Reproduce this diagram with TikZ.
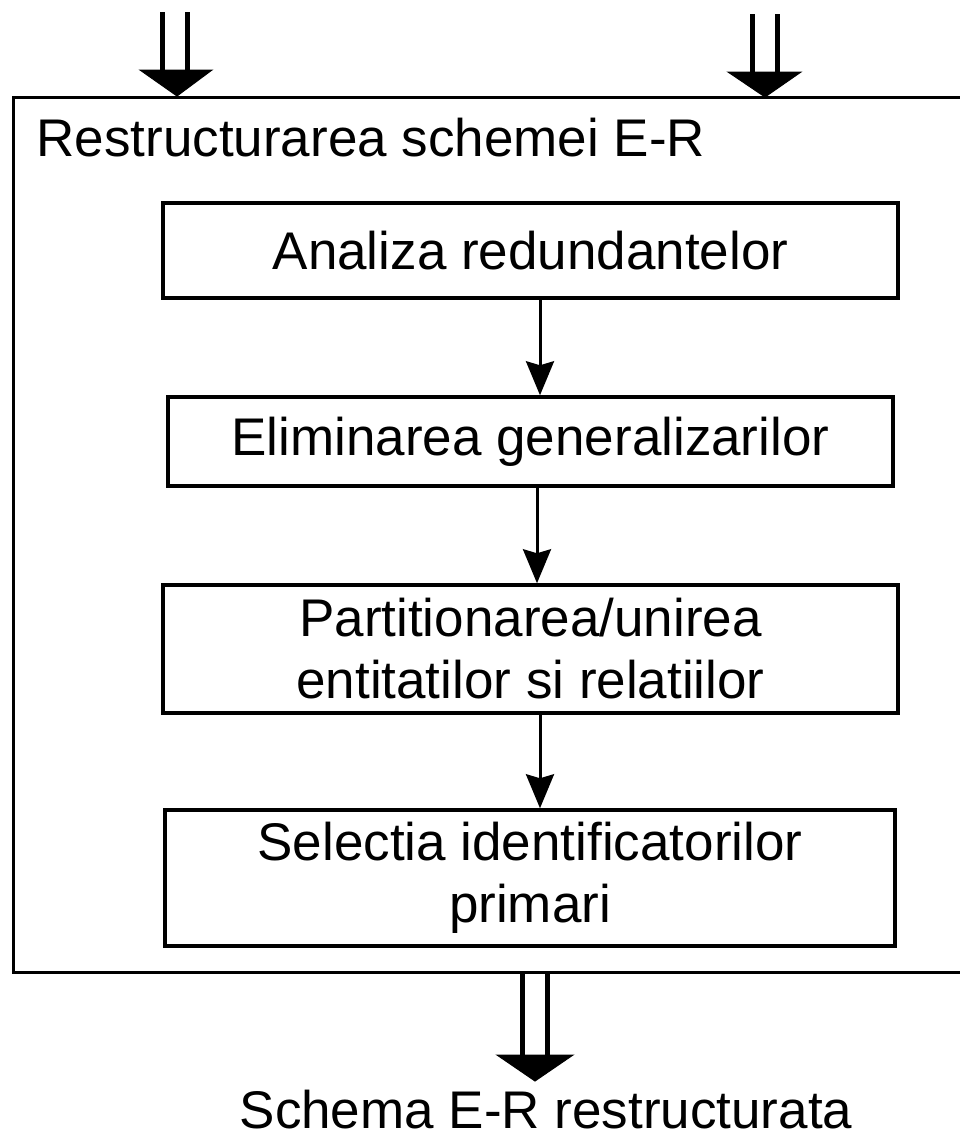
\documentclass[tikz,border=0pt]{standalone}
\usepackage{fontspec}
\setmainfont{Liberation Sans}
\usetikzlibrary{arrows.meta}
\begin{document}
\begin{tikzpicture}[x=1pt,y=-1pt,
  every node/.style={font=\fontsize{53}{62}\selectfont},
  stepbox/.style={draw,line width=3.5pt,minimum width=735pt,inner sep=0pt,align=center},
  flow/.style={line width=3pt,-{Stealth[length=34pt,width=28pt,inset=4pt]}},
  shaft/.style={line width=4.5pt},
  bighead/.style={fill=black,draw=black,line width=1pt,line join=miter}]
\useasboundingbox (0,0) rectangle (960,1138);
% outer frame of the restructuring stage
\draw[line width=3pt] (13,97) rectangle (975,972);
\node[anchor=west] (title) at (33,138) {Restructurarea schemei E-R};
% processing steps
\node[stepbox,minimum height=95pt] (s1) at (530.5,250.5) {Analiza redundantelor};
\node[stepbox,minimum height=89pt,minimum width=725pt] (s2) at (530.5,441.5) {Eliminarea generalizarilor};
\node[stepbox,minimum height=128pt] (s3) at (530.5,649) {Partitionarea/unirea\\entitatilor si relatiilor};
\node[stepbox,minimum height=136pt,minimum width=730pt] (s4) at (530,878) {Selectia identificatorilor\\primari};
\draw[flow] (s1.south -| 540,0) -- (s2.north -| 540,0);
\draw[flow] (s2.south -| 537,0) -- (s3.north -| 537,0);
\draw[flow] (s3.south -| 540,0) -- (s4.north -| 540,0);
% incoming double arrows
\coordinate (inA) at (175,12);
\coordinate (inB) at (765,14);
\coordinate (outC) at (535,973);
\draw[shaft] ([xshift=-12.5pt]inA) -- ++(0,59);
\draw[shaft] ([xshift=12.5pt]inA) -- ++(0,59);
\draw[bighead] (140,70) -- (212,70) -- (177,96) -- cycle;
\draw[shaft] ([xshift=-12.5pt]inB) -- ++(0,59);
\draw[shaft] ([xshift=12.5pt]inB) -- ++(0,59);
\draw[bighead] (728,72) -- (801,72) -- (765,97) -- cycle;
% outgoing double arrow
\draw[shaft] ([xshift=-12.5pt]outC) -- ++(0,83);
\draw[shaft] ([xshift=12.5pt]outC) -- ++(0,83);
\draw[bighead] (497,1055) -- (573,1055) -- (535,1081) -- cycle;
\node[anchor=base,inner sep=0pt] (result) at (546,1128) {Schema E-R restructurata};
\end{tikzpicture}
\end{document}
